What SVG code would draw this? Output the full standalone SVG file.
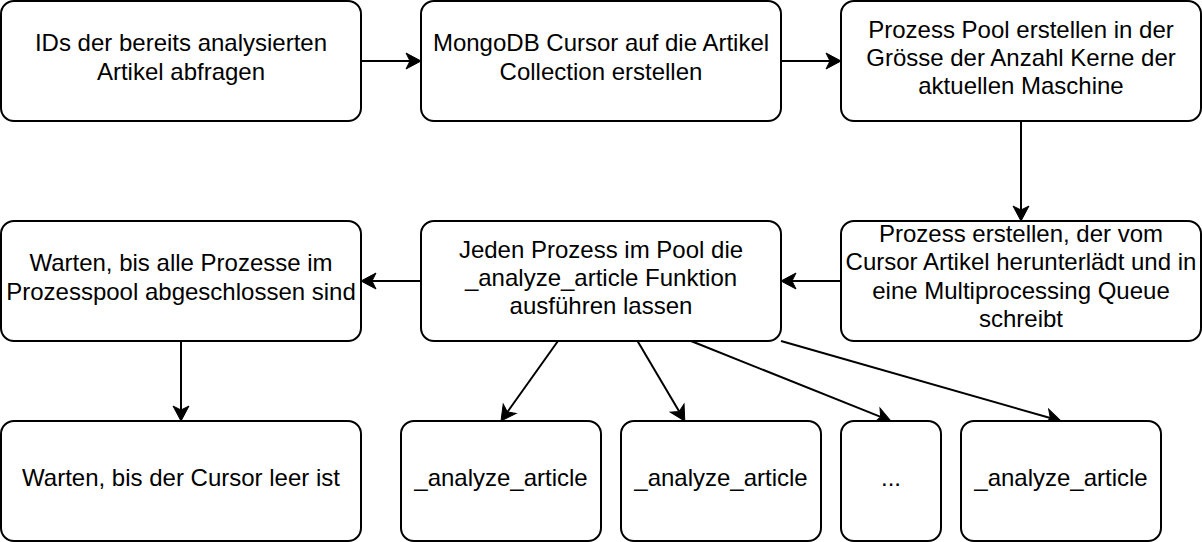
<svg xmlns="http://www.w3.org/2000/svg" width="1202" height="542" viewBox="0 0 1202 542">
<style>
.box{fill:#fff;stroke:#000;stroke-width:2}
.t{font-family:"Liberation Sans",Arial,Helvetica,sans-serif;font-size:24px;fill:#000;text-anchor:middle}
.e{stroke:#000;stroke-width:2;fill:none}
</style>
<defs>
<marker id="arr" markerUnits="userSpaceOnUse" markerWidth="20" markerHeight="20" viewBox="-1 -10 20 20" refX="4" refY="0" orient="auto" overflow="visible">
<path d="M0,-8 L15,0 L0,8 L4,0 Z" fill="#000" stroke="#000" stroke-width="1"/>
</marker>
</defs>
<rect width="1202" height="542" fill="#fff"/>
<g id="connectors">
<line class="e" x1="361" y1="61" x2="410" y2="61" marker-end="url(#arr)"/>
<line class="e" x1="781" y1="61" x2="830" y2="61" marker-end="url(#arr)"/>
<line class="e" x1="1021" y1="121" x2="1021" y2="210" marker-end="url(#arr)"/>
<line class="e" x1="841" y1="281" x2="792" y2="281" marker-end="url(#arr)"/>
<line class="e" x1="421" y1="281" x2="372" y2="281" marker-end="url(#arr)"/>
<line class="e" x1="181" y1="341" x2="181" y2="410" marker-end="url(#arr)"/>
<line class="e" x1="558" y1="341" x2="507.4" y2="412" marker-end="url(#arr)"/>
<line class="e" x1="637.5" y1="341" x2="679.2" y2="411.5" marker-end="url(#arr)"/>
<line class="e" x1="691" y1="341" x2="880.7" y2="416.9" marker-end="url(#arr)"/>
<line class="e" x1="781" y1="341" x2="1050.3" y2="418" marker-end="url(#arr)"/>
</g>
<g id="n1"><rect class="box" x="1" y="1" width="360" height="120" rx="13"/>
<text class="t" x="181" y="51.3">IDs der bereits analysierten</text>
<text class="t" x="181" y="79.7">Artikel abfragen</text></g>
<g id="n2"><rect class="box" x="421" y="1" width="360" height="120" rx="13"/>
<text class="t" x="601" y="51.3">MongoDB Cursor auf die Artikel</text>
<text class="t" x="601" y="79.7">Collection erstellen</text></g>
<g id="n3"><rect class="box" x="841" y="1" width="360" height="120" rx="13"/>
<text class="t" x="1021" y="37.6">Prozess Pool erstellen in der</text>
<text class="t" x="1021" y="66">Grösse der Anzahl Kerne der</text>
<text class="t" x="1021" y="94.4">aktuellen Maschine</text></g>
<g id="n4"><rect class="box" x="841" y="221" width="360" height="120" rx="13"/>
<text class="t" x="1021" y="242">Prozess erstellen, der vom</text>
<text class="t" x="1021" y="270.4">Cursor Artikel herunterlädt und in</text>
<text class="t" x="1021" y="298.8">eine Multiprocessing Queue</text>
<text class="t" x="1021" y="327.2">schreibt</text></g>
<g id="n5"><rect class="box" x="421" y="221" width="360" height="120" rx="13"/>
<text class="t" x="601" y="257.6">Jeden Prozess im Pool die</text>
<text class="t" x="601" y="286">_analyze_article Funktion</text>
<text class="t" x="601" y="314.4">ausführen lassen</text></g>
<g id="n6"><rect class="box" x="1" y="221" width="360" height="120" rx="13"/>
<text class="t" x="181" y="271.3">Warten, bis alle Prozesse im</text>
<text class="t" x="181" y="299.7">Prozesspool abgeschlossen sind</text></g>
<g id="n7"><rect class="box" x="1" y="421" width="360" height="120" rx="13"/>
<text class="t" x="181" y="485.5">Warten, bis der Cursor leer ist</text></g>
<g id="n8"><rect class="box" x="401" y="421" width="200" height="120" rx="13"/>
<text class="t" x="501" y="485.5">_analyze_article</text></g>
<g id="n9"><rect class="box" x="621" y="421" width="200" height="120" rx="13"/>
<text class="t" x="721" y="485.5">_analyze_article</text></g>
<g id="n10"><rect class="box" x="841" y="421" width="100" height="120" rx="13"/>
<text class="t" x="891" y="485.5">...</text></g>
<g id="n11"><rect class="box" x="961" y="421" width="200" height="120" rx="13"/>
<text class="t" x="1061" y="485.5">_analyze_article</text></g>
</svg>
